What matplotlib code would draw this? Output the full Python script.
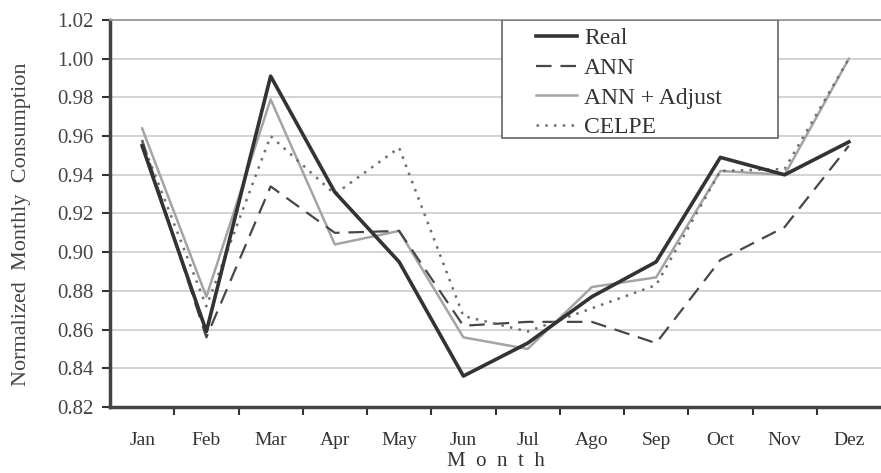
import numpy as np
import matplotlib.pyplot as plt
from matplotlib.patches import Rectangle

# monthly data
months = ['Jan', 'Feb', 'Mar', 'Apr', 'May', 'Jun', 'Jul', 'Ago', 'Sep', 'Oct', 'Nov', 'Dez']
real = [0.955, 0.859, 0.991, 0.931, 0.895, 0.836, 0.853, 0.877, 0.895, 0.949, 0.940, 0.957]
ann = [0.958, 0.856, 0.934, 0.910, 0.911, 0.862, 0.864, 0.864, 0.853, 0.896, 0.913, 0.955]
ann_adj = [0.964, 0.877, 0.979, 0.904, 0.911, 0.856, 0.850, 0.882, 0.887, 0.942, 0.940, 1.000]
celpe = [0.957, 0.872, 0.960, 0.930, 0.954, 0.867, 0.859, 0.871, 0.883, 0.942, 0.943, 1.000]

plt.rcParams['font.family'] = ['Liberation Serif', 'DejaVu Serif']

fig = plt.figure(figsize=(8.81, 4.73), dpi=100)
ax = fig.add_axes([110 / 881, 1 - 407 / 473, 771 / 881, 387 / 473])

x = np.arange(len(months))
ax.plot(x, real, color='#333333', lw=2.6, label='Real', zorder=5)
ax.plot(x, ann, color='#474747', lw=1.6, dashes=(7, 4), label='ANN', zorder=4)
ax.plot(x, ann_adj, color='#a4a4a4', lw=1.8, label='ANN + Adjust', zorder=3)
ax.plot(x, celpe, color='#6e6e6e', lw=1.8, linestyle=(0, (1, 2.5)), label='CELPE', zorder=4)

ax.set_xlim(-0.5, 11.5)
ax.set_ylim(0.82, 1.02)
ax.set_yticks(np.arange(0.82, 1.021, 0.02))
ax.set_yticklabels(['%.2f' % v for v in np.arange(0.82, 1.021, 0.02)])
ax.set_xticks(x)
ax.set_xticklabels(months)
ax.set_xticks(np.arange(0.5, 11, 1), minor=True)
ax.tick_params(axis='x', which='major', length=0, pad=18, labelsize=14, labelcolor='#333333')
ax.tick_params(axis='x', which='minor', length=6, width=1.5, color='#333333', direction='out')
ax.tick_params(axis='y', length=6, width=1.5, color='#333333', labelsize=15, labelcolor='#444444', pad=6)

ax.grid(axis='y', color='#d0d0d0', lw=1.3)
ax.set_axisbelow(True)
for s in ['left', 'bottom']:
    ax.spines[s].set_linewidth(2.5)
    ax.spines[s].set_color('#444444')
ax.spines['top'].set_color('#999999')
ax.spines['top'].set_linewidth(1.3)
ax.spines['right'].set_visible(False)

ax.set_xlabel('M  o  n  t  h', fontsize=15, color='#333333', labelpad=2)
ax.set_ylabel('Normalized  Monthly  Consumption', fontsize=16, color='#444444')
ax.yaxis.set_label_coords(-0.103, 0.473)

# legend box drawn separately so the entries can sit inside it with wide side margins
box = Rectangle((392 / 771, (407 - 138) / 387), 276 / 771, 118 / 387, transform=ax.transAxes,
                facecolor='white', edgecolor='#666666', lw=1.2, zorder=6)
ax.add_patch(box)
leg = ax.legend(loc='upper left', bbox_to_anchor=(418 / 771, 1.0), fontsize=17,
                frameon=False, borderpad=0.32, labelspacing=0.35,
                handlelength=1.75, handletextpad=0.3, borderaxespad=0)
leg.set_zorder(7)
for t in leg.get_texts():
    t.set_color('#333333')

fig.savefig('out.png', dpi=100)
